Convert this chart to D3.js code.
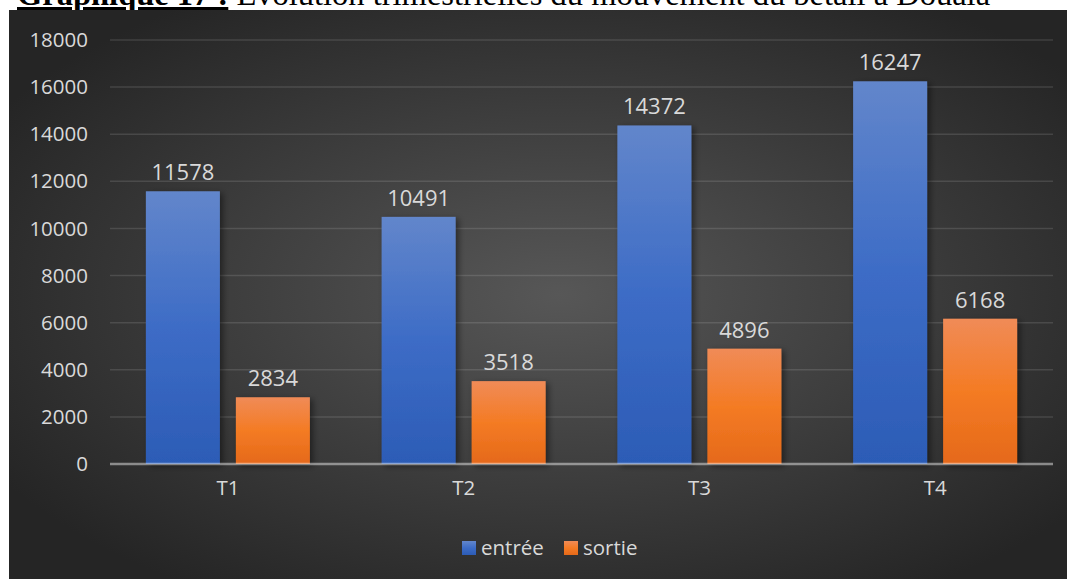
<!DOCTYPE html>
<html>
  <head>
    <meta charset="utf-8">
    <title>Graphique 17</title>
    <script src="https://unpkg.com/d3@7/dist/d3.min.js"></script>
    <style>
      body { margin: 0; background: #fff; }
      svg { display: block; }
    </style>
  </head>
  <body>
    <svg width="1067" height="579"></svg>
    <script>
      // donnees
      const trimestres = ['T1', 'T2', 'T3', 'T4'];
      const entree = [11578, 10491, 14372, 16247];
      const sortie = [2834, 3518, 4896, 6168];
      const seriesNames = ['entrée', 'sortie'];
      const yTicks = [0, 2000, 4000, 6000, 8000, 10000, 12000, 14000, 16000, 18000];

      const svg = d3.select('svg');
      const width = +svg.attr('width');
      const height = +svg.attr('height');
      const textColor = '#d9d9d9';
      const font = '"Open Sans", sans-serif';

      const defs = svg.append('defs');

      // fond sombre en degrade radial
      const bg = defs.append('radialGradient').attr('id', 'bg')
        .attr('cx', '52%').attr('cy', '50%').attr('r', '62%');
      bg.append('stop').attr('offset', '0%').attr('stop-color', '#575757');
      bg.append('stop').attr('offset', '100%').attr('stop-color', '#252525');

      // degrades des barres
      const gradBlue = defs.append('linearGradient').attr('id', 'gBlue')
        .attr('x1', 0).attr('y1', 0).attr('x2', 0).attr('y2', 1);
      gradBlue.append('stop').attr('offset', '0%').attr('stop-color', '#6286cb');
      gradBlue.append('stop').attr('offset', '50%').attr('stop-color', '#3d6cc6');
      gradBlue.append('stop').attr('offset', '100%').attr('stop-color', '#2c5cb6');
      const gradOrange = defs.append('linearGradient').attr('id', 'gOrange')
        .attr('x1', 0).attr('y1', 0).attr('x2', 0).attr('y2', 1);
      gradOrange.append('stop').attr('offset', '0%').attr('stop-color', '#f08b57');
      gradOrange.append('stop').attr('offset', '50%').attr('stop-color', '#f47b24');
      gradOrange.append('stop').attr('offset', '100%').attr('stop-color', '#e5691a');
      const fills = ['url(#gBlue)', 'url(#gOrange)'];

      const shadow = defs.append('filter').attr('id', 'shadow')
        .attr('x', '-20%').attr('y', '-20%').attr('width', '150%').attr('height', '140%');
      shadow.append('feDropShadow').attr('dx', 3).attr('dy', 2)
        .attr('stdDeviation', 3).attr('flood-color', '#000').attr('flood-opacity', 0.45);

      // titre (coupe en haut dans l'original)
      const title = svg.append('text')
        .attr('x', 17).attr('y', 5)
        .style('font-family', '"Liberation Serif", "Times New Roman", serif')
        .style('font-size', '32.5px')
        .attr('fill', '#000');
      title.append('tspan').style('font-weight', 'bold')
        .style('text-decoration', 'underline').text('Graphique 17 :');
      title.append('tspan').text(' Évolution trimestrielles du mouvement du bétail à Douala');

      svg.append('rect')
        .attr('x', 9).attr('y', 10)
        .attr('width', width - 9).attr('height', height - 10)
        .attr('fill', 'url(#bg)');

      const plot = {left: 110, right: 1053, top: 40, bottom: 464};

      const x0 = d3.scaleBand().domain(trimestres).range([plot.left, plot.right]);
      const groupW = 164;
      const x1 = d3.scaleBand().domain(seriesNames)
        .range([(x0.bandwidth() - groupW) / 2, (x0.bandwidth() + groupW) / 2])
        .paddingInner(16 / 90);
      const y = d3.scaleLinear().domain([0, 18000]).range([plot.bottom, plot.top]);

      // grille
      svg.append('g').selectAll('line').data(yTicks.filter(d => d > 0)).join('line')
        .attr('x1', plot.left).attr('x2', plot.right)
        .attr('y1', d => y(d)).attr('y2', d => y(d))
        .attr('stroke', '#ffffff').attr('stroke-opacity', 0.12).attr('stroke-width', 1.5);

      // axe y
      const yAxis = svg.append('g')
        .attr('transform', `translate(${plot.left - 22},0)`)
        .call(d3.axisLeft(y).tickValues(yTicks).tickSize(0).tickPadding(0).tickFormat(d3.format('d')));
      yAxis.select('.domain').remove();
      yAxis.selectAll('text')
        .attr('fill', textColor).style('font-family', font).style('font-size', '20.5px');

      // barres
      const rows = trimestres.map((t, i) => ({t, vals: [entree[i], sortie[i]]}));
      const groups = svg.append('g').selectAll('g').data(rows).join('g')
        .attr('transform', d => `translate(${x0(d.t)},0)`);

      groups.selectAll('rect').data(d => d.vals.map((v, k) => ({v, k}))).join('rect')
        .attr('x', d => x1(seriesNames[d.k]))
        .attr('width', x1.bandwidth())
        .attr('y', d => y(d.v))
        .attr('height', d => y(0) - y(d.v))
        .attr('fill', d => fills[d.k])
        .attr('filter', 'url(#shadow)');

      groups.selectAll('text.val').data(d => d.vals.map((v, k) => ({v, k}))).join('text')
        .attr('class', 'val')
        .attr('x', d => x1(seriesNames[d.k]) + x1.bandwidth() / 2)
        .attr('y', d => y(d.v) - 11)
        .attr('text-anchor', 'middle')
        .attr('fill', textColor)
        .style('font-family', font).style('font-size', '22px')
        .text(d => d.v);

      // ligne zero
      svg.append('line')
        .attr('x1', plot.left).attr('x2', plot.right)
        .attr('y1', y(0)).attr('y2', y(0))
        .attr('stroke', '#ffffff').attr('stroke-opacity', 0.45).attr('stroke-width', 2.5);

      // axe x
      const xAxis = svg.append('g')
        .attr('transform', `translate(0,${plot.bottom + 16})`)
        .call(d3.axisBottom(x0).tickSize(0).tickPadding(0));
      xAxis.select('.domain').remove();
      xAxis.selectAll('text')
        .attr('fill', textColor).style('font-family', font).style('font-size', '20.5px');

      // legende
      const legend = svg.append('g').attr('transform', 'translate(462,541)');
      const legendX = [0, 102];
      seriesNames.forEach((name, k) => {
        const g = legend.append('g').attr('transform', `translate(${legendX[k]},0)`);
        g.append('rect').attr('width', 14).attr('height', 14).attr('fill', fills[k]);
        g.append('text').attr('x', 19).attr('y', 14)
          .attr('fill', textColor)
          .style('font-family', font).style('font-size', '20.5px')
          .text(name);
      });
    </script>
  </body>
</html>
